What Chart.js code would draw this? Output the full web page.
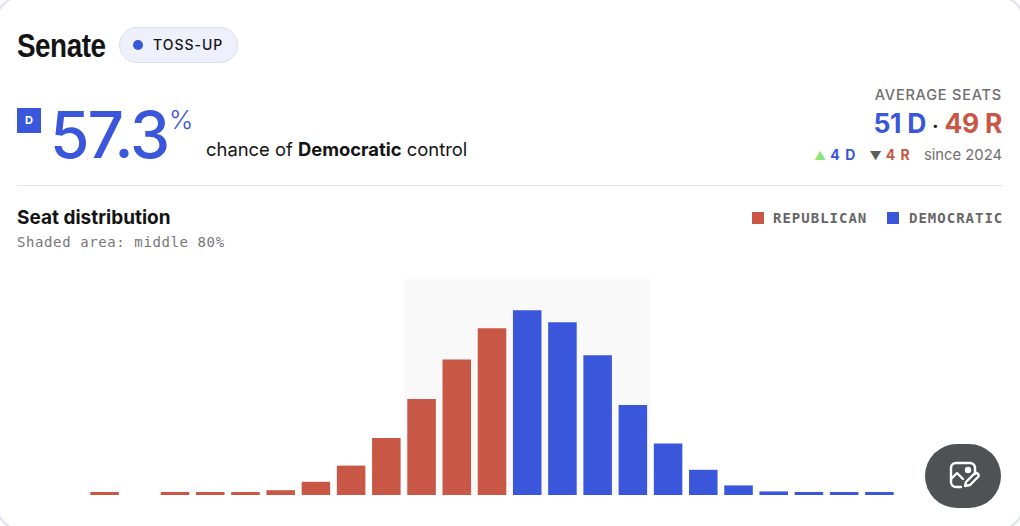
<!DOCTYPE html>
<html>
<head>
<meta charset="utf-8">
<script src="https://cdn.jsdelivr.net/npm/chart.js@4"></script>
<style>
html, body { margin: 0; padding: 0; width: 1020px; height: 526px; overflow: hidden; background: #fff; }
body { font-family: Inter, sans-serif; color: #141414; position: relative; }
.abs { position: absolute; white-space: nowrap; line-height: 1; }
.right { right: 18px; text-align: right; }
.blue { color: #3A56DB; }
.red { color: #C85745; }
.card { position: absolute; left: -4px; top: -4px; width: 1028px; height: 534px; border: 2px solid #dfe2ec; border-radius: 24px; box-sizing: border-box; }
#title { left: 17px; top: 26px; font: bold 34px "Liberation Sans", sans-serif; letter-spacing: -0.6px; transform: scaleX(0.82); transform-origin: left top; }
#pill { left: 119px; top: 27px; width: 119px; height: 36px; box-sizing: border-box; background: #EEF0FB; border: 1.5px solid #D9DEF5; border-radius: 18px; }
#pillDot { left: 133px; top: 40px; width: 10px; height: 10px; border-radius: 50%; background: #3A56DB; }
#pillText { left: 153px; top: 38px; font-size: 14px; font-weight: 500; letter-spacing: 1px; }
#dBox { left: 17px; top: 108px; width: 24px; height: 25px; background: #3A56DB; color: #fff; font-size: 11px; font-weight: 700; text-align: center; line-height: 24px; }
#bigNum { left: 50px; top: 103px; font-size: 64px; font-weight: 500; letter-spacing: -2px; color: #3A56DB; }
#pct { left: 169px; top: 107px; font-size: 26px; font-weight: 300; color: #3A56DB; }
#chance { left: 206px; top: 140px; font-size: 18.4px; }
#chance b { font-weight: 700; }
#rule { left: 17px; top: 185px; width: 986px; height: 1px; background: #E6E6E6; }
#dist { left: 17px; top: 208px; font-size: 19px; font-weight: 700; }
#shaded { left: 17px; top: 234px; font: 14px "DejaVu Sans Mono", monospace; color: #777; letter-spacing: 0.6px; }
#avgHead { top: 88px; font-size: 14.5px; font-weight: 500; color: #6E6E6E; letter-spacing: 0.8px; }
#avg { top: 110px; font-size: 26.5px; font-weight: 700; letter-spacing: -0.3px; }
#avg .sep { color: #141414; margin: 0 6px; font-size: 20px; }
#delta { top: 148px; font-size: 14.8px; color: #6E6E6E; }
#delta b { font-weight: 700; letter-spacing: 1px; font-size: 14px; }
#delta .up { color: #8CE67A; font-size: 12px; }
#delta .down { color: #5E5E58; font-size: 12px; margin-left: 9px; }
#delta .since { margin-left: 9px; }
.swatch { position: absolute; width: 12px; height: 12px; top: 212px; }
.legendText { top: 210px; font: bold 14px "DejaVu Sans Mono", monospace; color: #666; letter-spacing: 1px; }
#chartBox { position: absolute; left: 87px; top: 279px; width: 810px; height: 216px; }
#fab { position: absolute; left: 925px; top: 444px; width: 76px; height: 64px; background: #4F5254; border-radius: 32px; }
#fab svg { position: absolute; left: 23px; top: 16px; }
</style>
</head>
<body>
<div class="card"></div>
<div class="abs" id="title">Senate</div>
<div class="abs" id="pill"></div>
<div class="abs" id="pillDot"></div>
<div class="abs" id="pillText">TOSS-UP</div>
<div class="abs" id="dBox">D</div>
<div class="abs" id="bigNum">57.3</div>
<div class="abs" id="pct">%</div>
<div class="abs" id="chance">chance of <b>Democratic</b> control</div>
<div class="abs" id="rule"></div>
<div class="abs right" id="avgHead">AVERAGE SEATS</div>
<div class="abs right" id="avg"><span class="blue">51 D</span><span class="sep">·</span><span class="red">49 R</span></div>
<div class="abs right" id="delta"><span class="up">▲</span> <b class="blue">4 D</b> <span class="down">▼</span> <b class="red">4 R</b> <span class="since">since 2024</span></div>
<div class="abs" id="dist">Seat distribution</div>
<div class="abs" id="shaded">Shaded area: middle 80%</div>
<div class="swatch" style="left:752px;background:#C85745"></div>
<div class="abs legendText" style="left:773px">REPUBLICAN</div>
<div class="swatch" style="left:887px;background:#3A56DB"></div>
<div class="abs legendText" style="left:909px">DEMOCRATIC</div>
<div id="chartBox"><canvas id="seatChart"></canvas></div>
<div id="fab">
  <svg width="32" height="32" viewBox="0 0 32 32" fill="none" stroke="#fff" stroke-width="2.4" stroke-linecap="round" stroke-linejoin="round">
    <path d="M13 27H8a5 5 0 0 1-5-5V8a5 5 0 0 1 5-5h14a5 5 0 0 1 5 5v6"/>
    <circle cx="20" cy="10" r="2" fill="#fff"/>
    <path d="M3 19l6-6 6 6"/>
    <path d="M17 26l1-4 8-8a2 2 0 0 1 4 3l-8 8z"/>
  </svg>
</div>
<script>
// seats won by Democrats, one bar each
var seats = [39, 40, 41, 42, 43, 44, 45, 46, 47, 48, 49, 50, 51, 52, 53, 54, 55, 56, 57, 58, 59, 60, 61];
// chance of each seat count, in percent
var republican = [0.25, 0, 0.25, 0.25, 0.25, 0.4, 1.1, 2.45, 4.75, 8, 11.3, 13.9, null, null, null, null, null, null, null, null, null, null, null];
var democratic = [null, null, null, null, null, null, null, null, null, null, null, null, 15.4, 14.4, 11.65, 7.5, 4.3, 2.1, 0.8, 0.3, 0.25, 0.25, 0.25];
var shadedSeats = [48, 54];
var yMax = 18;

// gray box behind the middle 80% of seats
var shadePlugin = {
    id: 'shade',
    beforeDatasetsDraw: function (chart) {
        var x = chart.scales.x;
        var half = (x.getPixelForValue(1) - x.getPixelForValue(0)) / 2;
        var left = x.getPixelForValue(seats.indexOf(shadedSeats[0])) - half;
        var right = x.getPixelForValue(seats.indexOf(shadedSeats[1])) + half;
        var ctx = chart.ctx;
        ctx.save();
        ctx.fillStyle = '#F9F9F9';
        ctx.fillRect(left, chart.chartArea.top, right - left, chart.chartArea.bottom - chart.chartArea.top);
        ctx.restore();
    }
};

new Chart(document.getElementById('seatChart'), {
    type: 'bar',
    data: {
        labels: seats,
        datasets: [
            { label: 'Republican', data: republican, backgroundColor: '#C85745' },
            { label: 'Democratic', data: democratic, backgroundColor: '#3A56DB' }
        ]
    },
    options: {
        responsive: true,
        maintainAspectRatio: false,
        animation: false,
        layout: { padding: 0 },
        datasets: { bar: { barPercentage: 0.81, categoryPercentage: 1 } },
        scales: {
            x: { stacked: true, display: false },
            y: { stacked: true, display: false, min: 0, max: yMax }
        },
        plugins: { legend: { display: false }, tooltip: { enabled: false } }
    },
    plugins: [shadePlugin]
});
</script>
</body>
</html>
